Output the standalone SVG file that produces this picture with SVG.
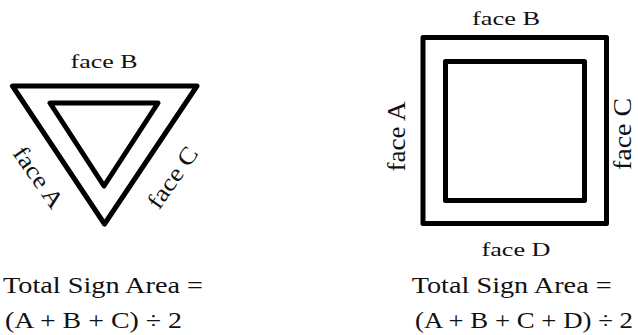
<svg xmlns="http://www.w3.org/2000/svg" width="638" height="335" viewBox="0 0 638 335">
<style>
.sh{fill:none;stroke:#000;stroke-width:5;stroke-linejoin:round}
.lb{font-family:"Liberation Serif","Times New Roman",serif;font-size:19px;fill:#111}
.lr{font-family:"Liberation Serif","Times New Roman",serif;font-size:24px;fill:#111}
.lv{font-family:"Liberation Serif","Times New Roman",serif;font-size:25px;fill:#111}
.fm{font-family:"Liberation Serif","Times New Roman",serif;font-size:22.5px;fill:#111}
</style>
<rect width="638" height="335" fill="#fff"/>
<g id="triangle-sign">
<polygon class="sh" points="12.5,86 197,86 104.5,224"/>
<polygon class="sh" points="50,103 158,103 104,186"/>
<text class="lb" x="104" y="67.5" text-anchor="middle" textLength="67" lengthAdjust="spacingAndGlyphs">face B</text>
<text class="lr" text-anchor="middle" textLength="70" lengthAdjust="spacingAndGlyphs" transform="translate(32,182) rotate(55)">face A</text>
<text class="lr" text-anchor="middle" textLength="70" lengthAdjust="spacingAndGlyphs" transform="translate(179,182) rotate(-55)">face C</text>
<text class="fm" x="3" y="292.5" textLength="200" lengthAdjust="spacingAndGlyphs">Total Sign Area =</text>
<text class="fm" x="5" y="328" textLength="177" lengthAdjust="spacingAndGlyphs">(A + B + C) ÷ 2</text>
</g>
<g id="square-sign">
<rect class="sh" x="423" y="37.5" width="183.5" height="186"/>
<rect class="sh" x="445.5" y="61.5" width="139" height="139"/>
<text class="lb" x="506" y="25" text-anchor="middle" textLength="68" lengthAdjust="spacingAndGlyphs">face B</text>
<text class="lb" x="516" y="256" text-anchor="middle" textLength="69" lengthAdjust="spacingAndGlyphs">face D</text>
<text class="lv" text-anchor="middle" textLength="70" lengthAdjust="spacingAndGlyphs" transform="translate(405,136.5) rotate(-90)">face A</text>
<text class="lv" text-anchor="middle" textLength="72" lengthAdjust="spacingAndGlyphs" transform="translate(631,134) rotate(-90)">face C</text>
<text class="fm" x="411.7" y="292.5" textLength="200" lengthAdjust="spacingAndGlyphs">Total Sign Area =</text>
<text class="fm" x="415" y="328" textLength="218" lengthAdjust="spacingAndGlyphs">(A + B + C + D) ÷ 2</text>
</g>
<g id="connectors"></g>
</svg>
